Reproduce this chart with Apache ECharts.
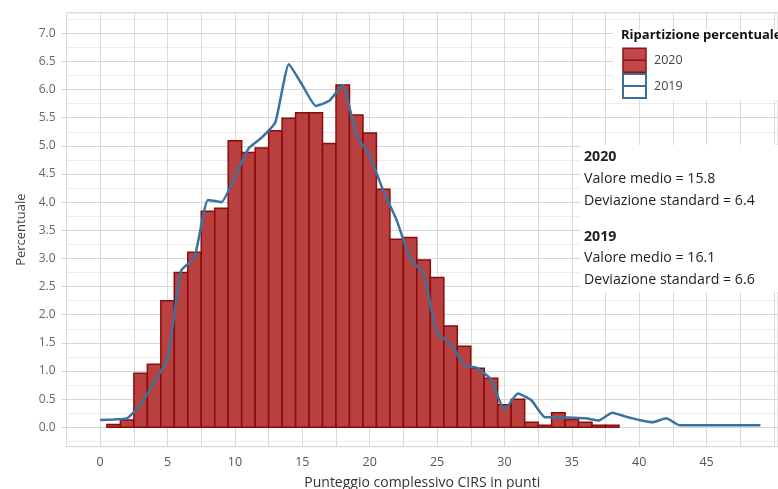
<!DOCTYPE html>
<html>
<head>
<meta charset="utf-8">
<script src="https://cdn.jsdelivr.net/npm/echarts@6/dist/echarts.min.js"></script>
<style>
html,body{margin:0;padding:0;background:#fff;}
#chart{width:778px;height:489px;}
</style>
</head>
<body>
<div id="chart"></div>
<script>
// Histogram 2020: bin centres (CIRS points) and percentages
var bins2020 = [1,2,3,4,5,6,7,8,9,10,11,12,13,14,15,16,17,18,19,20,21,22,23,24,25,26,27,28,29,30,31,32,33,34,35,36,37,38];
var values2020 = [0.05,0.13,0.96,1.12,2.25,2.75,3.11,3.84,3.89,5.09,4.88,4.96,5.27,5.49,5.59,5.59,5.04,6.08,5.55,5.23,4.23,3.34,3.37,2.97,2.66,1.80,1.44,1.05,0.87,0.40,0.50,0.09,0.035,0.26,0.14,0.09,0.035,0.035];
// Line 2019
var points2019 = [0,1,2,3,4,5,6,7,8,9,10,11,12,13,14,15,16,17,18,19,20,21,22,23,24,25,26,27,28,29,30,31,32,33,34,35,36,37,38,39,40,41,42,43,44,45,46,47,48,49];
var values2019 = [0.13,0.14,0.16,0.40,0.80,1.22,2.78,3.02,4.04,4.00,4.45,4.95,5.15,5.42,6.45,6.08,5.71,5.80,6.08,5.20,4.82,4.21,3.68,3.00,2.72,1.67,1.49,1.11,1.05,0.85,0.31,0.60,0.48,0.18,0.18,0.17,0.16,0.12,0.26,0.19,0.13,0.09,0.16,0.035,0.035,0.035,0.035,0.035,0.035,0.035];
// Y tick labels (major) and grid lines (major + minor)
var yTickLabels = [0,0.5,1,1.5,2,2.5,3,3.5,4,4.5,5,5.5,6,6.5,7];
var yGridValues = [-0.25,0,0.25,0.5,0.75,1,1.25,1.5,1.75,2,2.25,2.5,2.75,3,3.25,3.5,3.75,4,4.25,4.5,4.75,5,5.25,5.5,5.75,6,6.25,6.5,6.75,7,7.25];
// X tick labels
var xTickLabels = [0,5,10,15,20,25,30,35,40,45];
var seriesNames = ['2020','2019'];
var legendTitle = 'Ripartizione percentuale';
var xTitle = 'Punteggio complessivo CIRS in punti';
var yTitle = 'Percentuale';
var statsLines = ['2020','Valore medio = 15.8','Deviazione standard = 6.4','2019','Valore medio = 16.1','Deviazione standard = 6.6'];
var statsBold = [true,false,false,true,false,false];

var FONT = 'Open Sans';
var statsY = [157,179,201,237,258,280];
var barData = bins2020.map(function(b,i){return [b, values2020[i]];});
var lineData = points2019.map(function(p,i){return [p, values2019[i]];});

var chart = echarts.init(document.getElementById('chart'), null, {renderer:'canvas'});

var graphics = [
  {type:'rect', z:1, shape:{x:613,y:30,width:170,height:70}, style:{fill:'#fff'}},
  {type:'rect', z:1, shape:{x:580,y:145,width:200,height:147}, style:{fill:'#fff'}},
  {type:'text', z:10, x:621, y:35, style:{text:legendTitle, font:'bold 13px "Open Sans"', fill:'#111', verticalAlign:'middle'}}
];
statsLines.forEach(function(t,i){
  graphics.push({type:'text', z:10, x:584, y:statsY[i],
    style:{text:t, font:(statsBold[i]?'bold ':'')+'14.2px "Open Sans"', fill:'#222', verticalAlign:'middle'}});
});

var Y_MIN = -0.345, Y_MAX = 7.366;

chart.setOption({
  animation:false,
  textStyle:{fontFamily:FONT},
  grid:{left:66.5, top:12.7, right:0, height:434, show:true, borderColor:'#cfcfcf', borderWidth:1, backgroundColor:'transparent', containLabel:false, outerBoundsMode:'none'},
  legend:{
    orient:'vertical', left:622, top:47.5, padding:0, itemWidth:23, itemHeight:24, itemGap:0,
    textStyle:{fontSize:12.5, color:'#444', fontFamily:FONT, padding:[0,0,0,3]},
    selectedMode:false,
    data:[
      {name:seriesNames[0], icon:'path://M0,0L23,0L23,24L0,24Z M0,12L23,12', itemStyle:{color:'#c0474a', borderColor:'#8e1212', borderWidth:1.5}},
      {name:seriesNames[1], icon:'path://M0,0L23,0L23,24L0,24Z M0,12L23,12', itemStyle:{color:'#ffffff', borderColor:'#3c6f96', borderWidth:2}}
    ]
  },
  xAxis:{
    type:'value', min:-2.5, max:50.3, interval:2.5,
    name:xTitle, nameLocation:'middle', nameGap:29,
    nameTextStyle:{fontSize:14, color:'#333', fontFamily:FONT},
    axisLine:{show:false},
    axisTick:{show:true, length:5, lineStyle:{color:'#d5d5d5'}},
    axisLabel:{margin:9, fontSize:12.5, color:'#555', fontFamily:FONT,
      showMinLabel:false, showMaxLabel:false,
      formatter:function(v){ for(var i=0;i<xTickLabels.length;i++){ if(Math.abs(v-xTickLabels[i])<1e-6) return String(xTickLabels[i]); } return ''; } },
    splitLine:{show:true, lineStyle:{color:'#dadada', width:1}}
  },
  yAxis:[
    {
      type:'value', min:Y_MIN, max:Y_MAX, position:'left',
      axisLine:{show:false},
      axisTick:{show:false, customValues:yGridValues},
      axisLabel:{show:false, customValues:yTickLabels},
      splitLine:{show:true, lineStyle:{color:['#ececec','#d6d6d6'], width:1}}
    },
    {
      type:'value', min:Y_MIN, max:Y_MAX, position:'left', offset:0,
      name:yTitle, nameLocation:'middle', nameGap:34, nameRotate:90,
      nameTextStyle:{fontSize:13, color:'#444', fontFamily:FONT},
      axisLine:{show:false},
      axisTick:{show:true, length:5, customValues:yTickLabels, lineStyle:{color:'#d5d5d5'}},
      axisLabel:{show:true, customValues:yTickLabels, margin:11, fontSize:12, color:'#666', fontFamily:FONT,
        formatter:function(v){ return v.toFixed(1); } },
      splitLine:{show:false}
    }
  ],
  graphic:graphics,
  series:[
    {
      name:seriesNames[0], type:'custom', z:2, yAxisIndex:0,
      encode:{x:0, y:1},
      data:barData,
      renderItem:function(params, api){
        var x=api.value(0), y=api.value(1);
        var p0=api.coord([x-0.5, y]);
        var p1=api.coord([x+0.5, 0]);
        return {type:'rect', shape:{x:p0[0], y:p0[1], width:p1[0]-p0[0], height:p1[1]-p0[1]},
          style:{fill:'#b9403f', stroke:'#8a0c0c', lineWidth:1.5}};
      },
      itemStyle:{color:'#b9403f'}
    },
    {
      name:seriesNames[1], type:'line', z:3, yAxisIndex:0,
      data:lineData, showSymbol:false, symbol:'none', smooth:0.15,
      lineStyle:{color:'#3b73a0', width:2.5},
      itemStyle:{color:'#3b73a0'}
    }
  ]
});
</script>
</body>
</html>
